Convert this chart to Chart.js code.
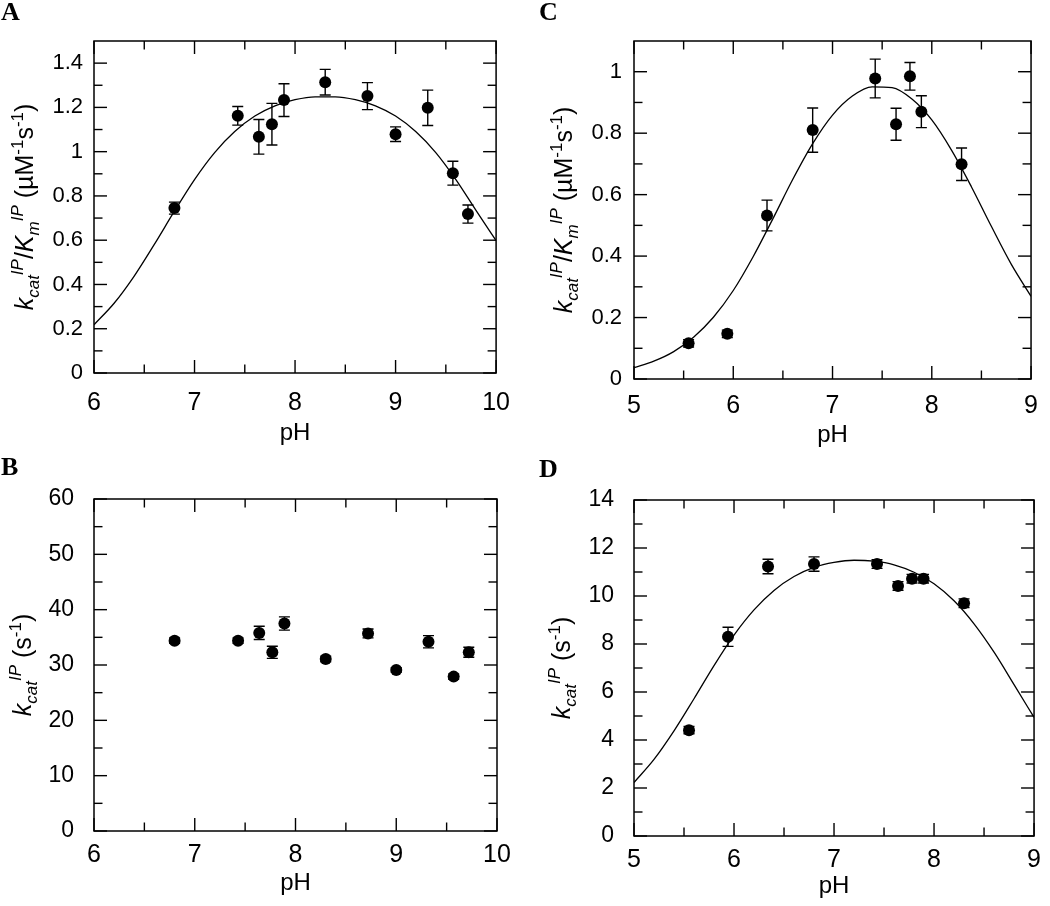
<!DOCTYPE html>
<html><head><meta charset="utf-8">
<script src="https://cdn.jsdelivr.net/npm/chart.js@4.4.1/dist/chart.umd.min.js"></script>
<style>
html,body{margin:0;padding:0;background:#fff;}
#wrap{position:relative;width:1050px;height:906px;overflow:hidden;background:#fff;}
canvas{position:absolute;}
.lab{position:absolute;font:bold 26px "Liberation Serif","Times New Roman",serif;line-height:26px;color:#000;}
</style></head><body>
<div id="wrap">
<canvas id="cA" width="525" height="453" style="left:0;top:0"></canvas>
<canvas id="cB" width="525" height="453" style="left:0;top:453px"></canvas>
<canvas id="cC" width="525" height="453" style="left:525px;top:0"></canvas>
<canvas id="cD" width="525" height="453" style="left:525px;top:453px"></canvas>
<div class="lab" style="left:1px;top:-1px">A</div>
<div class="lab" style="left:1px;top:454px">B</div>
<div class="lab" style="left:539px;top:-1px">C</div>
<div class="lab" style="left:539px;top:456px">D</div>
</div>
<script>
// ---------- data ----------
const A_PH  = [6.80, 7.43, 7.64, 7.77, 7.89, 8.30, 8.72, 9.00, 9.32, 9.57, 9.72];
const A_VAL = [0.745, 1.162, 1.067, 1.124, 1.233, 1.314, 1.251, 1.079, 1.198, 0.903, 0.718];
const A_ERR = [0.027, 0.042, 0.078, 0.094, 0.074, 0.058, 0.061, 0.033, 0.080, 0.054, 0.041];
const A_FIT_PH = [6.0,6.2,6.4,6.6,6.8,7.0,7.2,7.4,7.6,7.8,8.0,8.2,8.4,8.6,8.8,9.0,9.2,9.4,9.6,9.8,10.0];
const A_FIT    = [0.218,0.315,0.438,0.581,0.731,0.874,0.996,1.091,1.161,1.207,1.235,1.248,1.248,1.235,1.207,1.161,1.091,0.996,0.874,0.735,0.598];

const B_PH  = [6.80, 7.43, 7.64, 7.77, 7.89, 8.30, 8.72, 9.00, 9.32, 9.57, 9.72];
const B_VAL = [34.4, 34.4, 35.8, 32.3, 37.5, 31.1, 35.7, 29.1, 34.2, 27.9, 32.3];
const B_ERR = [0.5, 0.5, 1.2, 1.1, 1.2, 0.5, 0.8, 0.4, 1.1, 0.5, 0.9];

const C_PH  = [5.55, 5.94, 6.34, 6.80, 7.43, 7.64, 7.78, 7.895, 8.30];
const C_VAL = [0.116, 0.147, 0.532, 0.810, 0.978, 0.829, 0.985, 0.870, 0.699];
const C_ERR = [0.012, 0.012, 0.050, 0.072, 0.063, 0.052, 0.045, 0.052, 0.053];
const C_FIT_PH = [5.0,5.2,5.4,5.6,5.8,6.0,6.2,6.4,6.6,6.8,7.0,7.2,7.4,7.6,7.8,8.0,8.2,8.4,8.6,8.8,9.0];
const C_FIT    = [0.037,0.058,0.089,0.136,0.201,0.288,0.398,0.522,0.650,0.766,0.859,0.921,0.951,0.948,0.911,0.843,0.744,0.625,0.497,0.374,0.269];

const D_PH  = [5.55, 5.94, 6.34, 6.80, 7.43, 7.64, 7.78, 7.895, 8.30];
const D_VAL = [4.41, 8.30, 11.23, 11.33, 11.33, 10.42, 10.72, 10.72, 9.70];
const D_ERR = [0.15, 0.40, 0.30, 0.30, 0.18, 0.18, 0.18, 0.18, 0.18];
const D_FIT_PH = [5.0,5.2,5.4,5.6,5.8,6.0,6.2,6.4,6.6,6.8,7.0,7.2,7.4,7.6,7.8,8.0,8.2,8.4,8.6,8.8,9.0];
const D_FIT    = [2.23,3.19,4.38,5.72,7.10,8.37,9.42,10.23,10.81,11.19,11.40,11.49,11.45,11.30,10.99,10.51,9.80,8.84,7.66,6.31,4.94];

// tick labels
const X_TICKS_AB = [6, 7, 8, 9, 10];
const X_TICKS_CD = [5, 6, 7, 8, 9];
const Y_TICKS_A = [0, 0.2, 0.4, 0.6, 0.8, 1.0, 1.2, 1.4];
const Y_TICKS_B = [0, 10, 20, 30, 40, 50, 60];
const Y_TICKS_C = [0, 0.2, 0.4, 0.6, 0.8, 1.0];
const Y_TICKS_D = [0, 2, 4, 6, 8, 10, 12, 14];

const X_TITLE = 'pH';
const Y_TITLE_RATIO = [['k','i',0],['cat','i',1],['IP','i',-1],['/','n',0],['K','i',0],['m','i',1],['IP','i',-1],[' (\u00B5M','n',0],['-1','n',-1],['s','n',0],['-1','n',-1],[')','n',0]];
const Y_TITLE_KCAT  = [['k','i',0],['cat','i',1],['IP','i',-1],[' (s','n',0],['-1','n',-1],[')','n',0]];

const FAM = '"Liberation Sans", Arial, Helvetica, sans-serif';

// ---------- decoration plugin (frame, inward ticks, error bars, titles) ----------
const decor = {
  id: 'decor',
  afterDatasetsDraw(chart, args, o) {
    const ctx = chart.ctx, ys = chart.scales.y;
    ctx.save();
    ctx.strokeStyle = '#000'; ctx.lineWidth = 1.4;
    chart.data.datasets.forEach((ds, di) => {
      if (!ds.errors) return;
      const meta = chart.getDatasetMeta(di);
      meta.data.forEach((pt, i) => {
        const v = ds.data[i].y, e = ds.errors[i];
        const y1 = ys.getPixelForValue(v + e), y2 = ys.getPixelForValue(v - e);
        const x = pt.x, h = 5.5;
        ctx.beginPath();
        ctx.moveTo(x, y1); ctx.lineTo(x, y2);
        ctx.moveTo(x - h, y1); ctx.lineTo(x + h, y1);
        ctx.moveTo(x - h, y2); ctx.lineTo(x + h, y2);
        ctx.stroke();
      });
    });
    ctx.restore();
  },
  afterDraw(chart, args, o) {
    const ctx = chart.ctx, a = chart.chartArea, xs = chart.scales.x, ys = chart.scales.y;
    ctx.save();
    ctx.strokeStyle = '#000'; ctx.lineWidth = 1.5;
    ctx.strokeRect(a.left, a.top, a.right - a.left, a.bottom - a.top);
    ctx.lineWidth = 1.4;
    const line = (x1, y1, x2, y2) => { ctx.beginPath(); ctx.moveTo(x1, y1); ctx.lineTo(x2, y2); ctx.stroke(); };
    const mids = arr => arr.slice(1).map((v, i) => (v + arr[i]) / 2);
    const MAJ = 13, MIN = 8.5;
    o.xTicks.forEach(v => { const p = xs.getPixelForValue(v); line(p, a.bottom, p, a.bottom - MAJ); line(p, a.top, p, a.top + MAJ); });
    mids(o.xTicks).forEach(v => { const p = xs.getPixelForValue(v); line(p, a.bottom, p, a.bottom - MIN); line(p, a.top, p, a.top + MIN); });
    o.yTicks.forEach(v => { const p = ys.getPixelForValue(v); line(a.left, p, a.left + MAJ, p); line(a.right, p, a.right - MAJ, p); });
    mids(o.yTicks).forEach(v => { const p = ys.getPixelForValue(v); line(a.left, p, a.left + MIN, p); line(a.right, p, a.right - MIN, p); });
    // x title
    ctx.fillStyle = '#000';
    ctx.font = '24px ' + FAM; ctx.textAlign = 'center'; ctx.textBaseline = 'alphabetic';
    ctx.fillText(X_TITLE, (a.left + a.right) / 2, o.xTitleY);
    // y title (rich text, rotated)
    ctx.translate(o.yTitleX, (a.top + a.bottom) / 2);
    ctx.rotate(-Math.PI / 2);
    ctx.textAlign = 'left';
    const fontOf = s => (s[1] === 'i' ? 'italic ' : '') + (s[2] === 0 ? '25px ' : '17px ') + FAM;
    let total = 0;
    const w = o.yTitle.map(s => { ctx.font = fontOf(s); const m = ctx.measureText(s[0]).width; total += m; return m; });
    let cur = -total / 2;
    o.yTitle.forEach((s, i) => {
      ctx.font = fontOf(s);
      const dy = s[2] === 1 ? 6 : (s[2] === -1 ? -10 : 0);
      ctx.fillText(s[0], cur, dy);
      cur += w[i];
    });
    ctx.restore();
  }
};

const fmt = v => String(Number(Number(v).toFixed(2)));

function makePanel(id, c) {
  const datasets = [];
  if (c.fitX) {
    datasets.push({ type: 'line', data: c.fitX.map((x, i) => ({ x, y: c.fitY[i] })), borderColor: '#000', borderWidth: 1.3,
      pointRadius: 0, fill: false, cubicInterpolationMode: 'monotone' });
  }
  datasets.push({ type: 'scatter', data: c.px.map((x, i) => ({ x, y: c.py[i] })), errors: c.err,
    backgroundColor: '#000', borderColor: '#000', pointRadius: 6, pointHoverRadius: 6, borderWidth: 0 });
  return new Chart(document.getElementById(id), {
    data: { datasets },
    options: {
      responsive: false, animation: false, events: [],
      layout: { padding: { left: 0, top: c.area.top, right: 525 - c.area.right, bottom: 0 } },
      plugins: { legend: { display: false }, tooltip: { enabled: false },
        decor: { xTicks: c.xTicks, yTicks: c.yTicks, xTitleY: c.xTitleY, yTitleX: c.yTitleX, yTitle: c.yTitle } },
      scales: {
        x: { type: 'linear', min: c.xMin, max: c.xMax,
          afterBuildTicks: s => { s.ticks = c.xTicks.map(v => ({ value: v })); },
          afterFit: s => { s.height = 453 - c.area.bottom; },
          grid: { display: false, drawTicks: false }, border: { display: false },
          ticks: { color: '#000', font: { family: FAM, size: 25 }, padding: c.xPad, maxRotation: 0, autoSkip: false, callback: fmt } },
        y: { type: 'linear', min: c.yMin, max: c.yMax,
          afterBuildTicks: s => { s.ticks = c.yTicks.map(v => ({ value: v })); },
          afterFit: s => { s.width = c.area.left; },
          grid: { display: false, drawTicks: false }, border: { display: false },
          ticks: { color: '#000', font: { family: FAM, size: c.ySize }, padding: c.yPad, autoSkip: false, callback: fmt } }
      }
    },
    plugins: [decor]
  });
}

makePanel('cA', { px: A_PH, py: A_VAL, err: A_ERR, fitX: A_FIT_PH, fitY: A_FIT,
  xMin: 6, xMax: 10, yMin: 0, yMax: 1.5, xTicks: X_TICKS_AB, yTicks: Y_TICKS_A,
  area: { left: 94, top: 41, right: 497, bottom: 373 }, xPad: 15, yPad: 11, ySize: 22,
  xTitleY: 440, yTitleX: 33, yTitle: Y_TITLE_RATIO });
makePanel('cB', { px: B_PH, py: B_VAL, err: B_ERR,
  xMin: 6, xMax: 10, yMin: 0, yMax: 60, xTicks: X_TICKS_AB, yTicks: Y_TICKS_B,
  area: { left: 94, top: 46, right: 497, bottom: 378 }, xPad: 9, yPad: 20, ySize: 23,
  xTitleY: 437, yTitleX: 31, yTitle: Y_TITLE_KCAT });
makePanel('cC', { px: C_PH, py: C_VAL, err: C_ERR, fitX: C_FIT_PH, fitY: C_FIT,
  xMin: 5, xMax: 9, yMin: 0, yMax: 1.1, xTicks: X_TICKS_CD, yTicks: Y_TICKS_C,
  area: { left: 109, top: 41, right: 517, bottom: 379 }, xPad: 12, yPad: 12, ySize: 22,
  xTitleY: 442, yTitleX: 47, yTitle: Y_TITLE_RATIO });
makePanel('cD', { px: D_PH, py: D_VAL, err: D_ERR, fitX: D_FIT_PH, fitY: D_FIT,
  xMin: 5, xMax: 9, yMin: 0, yMax: 14, xTicks: X_TICKS_CD, yTicks: Y_TICKS_D,
  area: { left: 109, top: 47, right: 517, bottom: 383 }, xPad: 9, yPad: 20, ySize: 23,
  xTitleY: 440, yTitleX: 45, yTitle: Y_TITLE_KCAT });
</script>
</body></html>
